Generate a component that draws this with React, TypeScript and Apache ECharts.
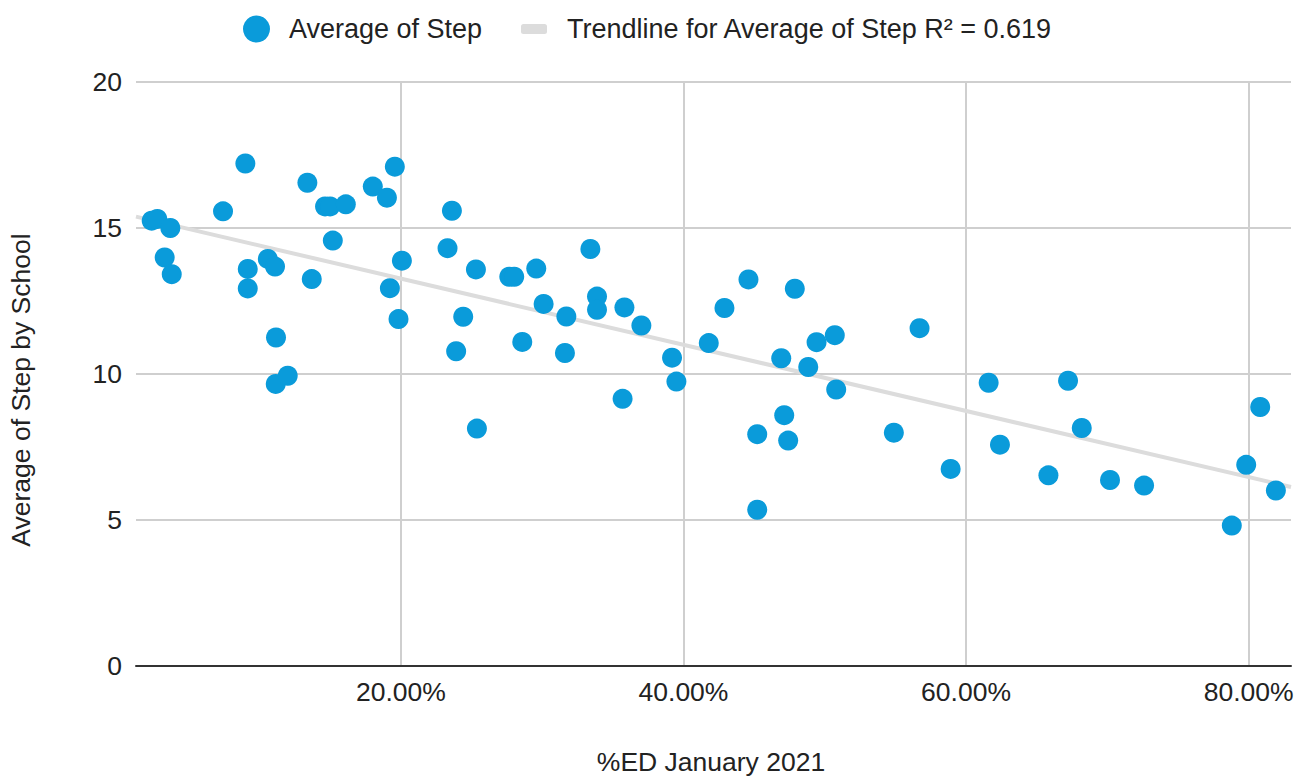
import React, { useEffect, useRef } from "react";
import * as echarts from "echarts";

// %ED January 2021 (percent)
const edPercent: number[] = [
  2.36, 2.76, 3.68, 3.28, 3.78, 7.41, 8.99, 9.16, 9.16, 10.58, 11.09, 11.16, 11.14, 11.99,
  13.38, 13.69, 14.63, 14.99, 16.1, 15.18, 18.01, 19.01, 19.57, 20.07, 19.22, 19.83, 23.3,
  23.61, 25.31, 24.41, 23.91, 25.38, 27.67, 28.02, 29.58, 33.41, 30.1, 31.71, 33.88, 33.88,
  35.82, 37.02, 28.59, 31.61, 39.19, 39.5, 35.69, 44.6, 47.88, 42.9, 41.79, 49.42, 50.71,
  46.92, 48.83, 50.81, 47.13, 45.22, 47.41, 45.22, 56.71, 54.89, 58.91, 61.6, 62.4, 65.83,
  67.22, 68.19, 70.19, 72.6, 78.81, 79.83, 80.82, 81.93,
];

// Average of Step by School
const avgStep: number[] = [
  15.25, 15.31, 15.0, 13.99, 13.42, 15.57, 17.21, 13.6, 12.93, 13.94, 13.68, 11.25, 9.66, 9.94,
  16.55, 13.25, 15.74, 15.74, 15.81, 14.57, 16.42, 16.04, 17.1, 13.88, 12.94, 11.88, 14.31,
  15.59, 13.58, 11.96, 10.78, 8.13, 13.33, 13.33, 13.61, 14.28, 12.4, 11.97, 12.65, 12.2,
  12.28, 11.66, 11.1, 10.72, 10.56, 9.74, 9.15, 13.24, 12.92, 12.26, 11.06, 11.09, 11.33,
  10.54, 10.24, 9.47, 8.59, 7.94, 7.72, 5.35, 11.57, 7.99, 6.75, 9.7, 7.58, 6.53, 9.77, 8.15,
  6.37, 6.18, 4.81, 6.89, 8.87, 6.01,
];

// Trendline end points
const trendX: number[] = [1.25, 83];
const trendY: number[] = [15.39, 6.13];

const xTickValues: number[] = [20, 40, 60, 80];
const yTickValues: number[] = [0, 5, 10, 15, 20];

const SCATTER_NAME = "Average of Step";
const TREND_NAME = "Trendline for Average of Step R² = 0.619";
const X_NAME = "%ED January 2021";
const Y_NAME = "Average of Step by School";

const FONT = '"Liberation Sans", Arial, Helvetica, sans-serif';
const BLUE = "#0a9bda";
const GRID = "#cfcfcf";
const TEXT = "#222222";

export default function App() {
  const ref = useRef<HTMLDivElement>(null);

  useEffect(() => {
    if (!ref.current) return;
    const chart = echarts.init(ref.current, undefined, { renderer: "svg" });

    const scatterData = edPercent.map((x, i) => [x, avgStep[i]]);
    const trendData = trendX.map((x, i) => [x, trendY[i]]);

    chart.setOption({
      animation: false,
      backgroundColor: "#ffffff",
      textStyle: { fontFamily: FONT },
      legend: [
        {
          data: [{ name: SCATTER_NAME, icon: "circle" }],
          left: 243,
          top: 15,
          padding: 0,
          itemWidth: 27,
          itemHeight: 27,
          itemGap: 0,
          selectedMode: false,
          textStyle: {
            fontSize: 27,
            color: TEXT,
            fontFamily: FONT,
            lineHeight: 28,
            padding: [0, 0, 0, 14],
          },
        },
        {
          data: [{ name: TREND_NAME, icon: "roundRect" }],
          left: 521,
          top: 15,
          padding: 0,
          itemWidth: 26,
          itemHeight: 10,
          itemGap: 0,
          selectedMode: false,
          textStyle: {
            fontSize: 27,
            color: TEXT,
            fontFamily: FONT,
            lineHeight: 28,
            padding: [0, 0, 0, 15],
          },
        },
      ],
      grid: {
        left: 136,
        right: 14,
        top: 82,
        bottom: 110,
      },
      xAxis: {
        type: "value",
        min: 1.25,
        max: 83,
        axisLine: { show: true, onZero: false, lineStyle: { color: "#333333", width: 2 } },
        axisTick: { show: false, customValues: xTickValues },
        axisLabel: {
          customValues: xTickValues,
          fontSize: 26.5,
          color: TEXT,
          fontFamily: FONT,
          margin: 12,
          formatter: (v: number) => `${v.toFixed(2)}%`,
        },
        splitLine: {
          show: true,
          lineStyle: { color: GRID, width: 2 },
        },
      },
      yAxis: {
        type: "value",
        min: 0,
        max: 20,
        interval: 5,
        axisLine: { show: false },
        axisTick: { show: false },
        axisLabel: {
          customValues: yTickValues,
          fontSize: 26.5,
          color: TEXT,
          fontFamily: FONT,
          margin: 14,
        },
        splitLine: { show: true, lineStyle: { color: GRID, width: 2 } },
      },
      graphic: [
        {
          type: "text",
          x: 711,
          y: 762,
          style: {
            text: X_NAME,
            font: `26.5px ${FONT}`,
            fill: TEXT,
            textAlign: "center",
            textVerticalAlign: "middle",
          },
        },
        {
          type: "text",
          x: 21,
          y: 390,
          rotation: Math.PI / 2,
          style: {
            text: Y_NAME,
            font: `26.5px ${FONT}`,
            fill: TEXT,
            textAlign: "center",
            textVerticalAlign: "middle",
          },
        },
      ],
      series: [
        {
          name: TREND_NAME,
          type: "line",
          data: trendData,
          showSymbol: false,
          symbol: "none",
          silent: true,
          z: 1,
          itemStyle: { color: "#dcdcdc" },
          lineStyle: { color: "#dcdcdc", width: 4 },
        },
        {
          name: SCATTER_NAME,
          type: "scatter",
          data: scatterData,
          symbol: "circle",
          symbolSize: 20,
          z: 3,
          itemStyle: { color: BLUE, opacity: 1 },
        },
      ],
    });

    return () => {
      chart.dispose();
    };
  }, []);

  return (
    <div
      ref={ref}
      style={{ position: "fixed", left: 0, top: 0, width: 1305, height: 776, background: "#fff" }}
    />
  );
}
